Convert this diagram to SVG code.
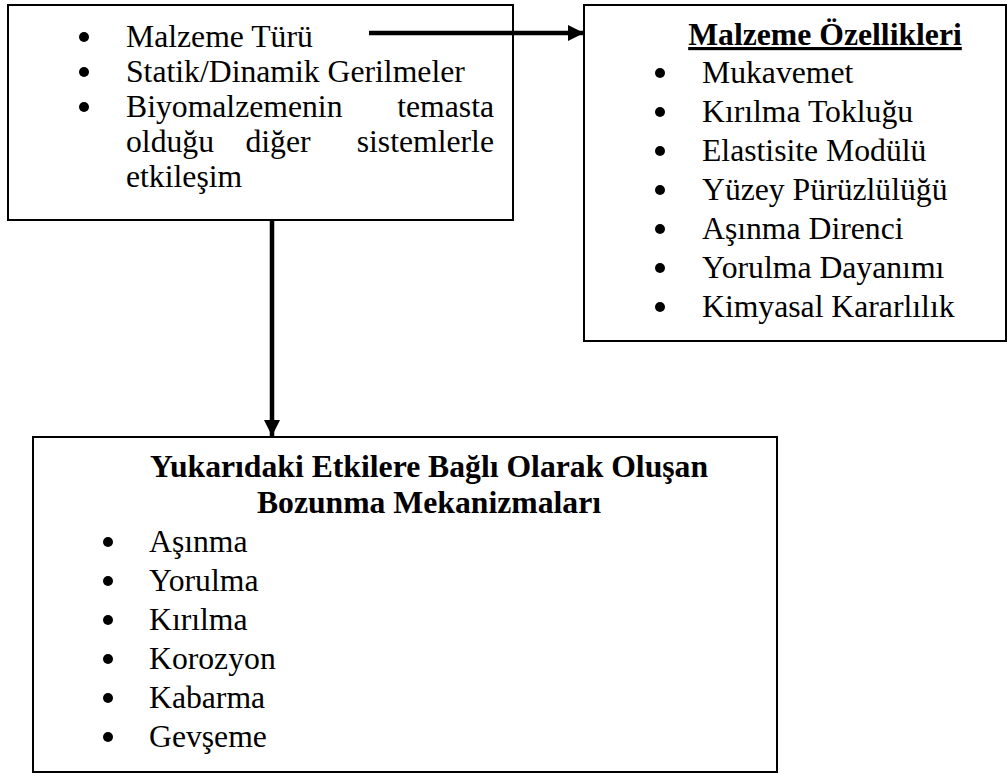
<svg xmlns="http://www.w3.org/2000/svg" width="1008" height="774" viewBox="0 0 1008 774">
  <style>
    .box { fill: #fff; stroke: #000; stroke-width: 2; }
    .t { font-family: "Liberation Serif", "Times New Roman", serif; font-size: 31.7px; fill: #000; }
    .b { font-weight: bold; }
    .u { text-decoration: underline; }
    .dot { fill: #000; }
    .wire { stroke: #000; stroke-width: 4.5; fill: none; }
  </style>
  <defs>
    <marker id="head" markerUnits="userSpaceOnUse" markerWidth="16" markerHeight="16" viewBox="0 0 16 16" refX="16" refY="8" orient="auto">
      <path d="M0,0 L16,8 L0,16 Z" fill="#000"/>
    </marker>
  </defs>

  <!-- influencing factors -->
  <g id="factors">
    <rect class="box" x="8" y="5" width="505" height="215"/>
    <circle class="dot" cx="84" cy="37" r="5"/>
    <text class="t" x="126" y="47">Malzeme Türü</text>
    <circle class="dot" cx="84" cy="72" r="5"/>
    <text class="t" x="126" y="82">Statik/Dinamik Gerilmeler</text>
    <circle class="dot" cx="84" cy="107" r="5"/>
    <text class="t" x="126" y="117">Biyomalzemenin</text>
    <text class="t" x="494" y="117" text-anchor="end">temasta</text>
    <text class="t" x="126" y="152">olduğu</text>
    <text class="t" x="278" y="152" text-anchor="middle">diğer</text>
    <text class="t" x="494" y="152" text-anchor="end">sistemlerle</text>
    <text class="t" x="126" y="187">etkileşim</text>
  </g>

  <!-- material properties -->
  <g id="properties">
    <rect class="box" x="584" y="5" width="422" height="336"/>
    <text class="t b u" x="825" y="45" text-anchor="middle">Malzeme Özellikleri</text>
    <circle class="dot" cx="660" cy="73" r="5"/>
    <text class="t" x="702" y="83">Mukavemet</text>
    <circle class="dot" cx="660" cy="112" r="5"/>
    <text class="t" x="702" y="122">Kırılma Tokluğu</text>
    <circle class="dot" cx="660" cy="151" r="5"/>
    <text class="t" x="702" y="161">Elastisite Modülü</text>
    <circle class="dot" cx="660" cy="190" r="5"/>
    <text class="t" x="702" y="200">Yüzey Pürüzlülüğü</text>
    <circle class="dot" cx="660" cy="229" r="5"/>
    <text class="t" x="702" y="239">Aşınma Direnci</text>
    <circle class="dot" cx="660" cy="268" r="5"/>
    <text class="t" x="702" y="278">Yorulma Dayanımı</text>
    <circle class="dot" cx="660" cy="307" r="5"/>
    <text class="t" x="702" y="317">Kimyasal Kararlılık</text>
  </g>

  <!-- degradation mechanisms -->
  <g id="mechanisms">
    <rect class="box" x="33" y="437" width="744" height="335"/>
    <text class="t b" x="429" y="477" text-anchor="middle">Yukarıdaki Etkilere Bağlı Olarak Oluşan</text>
    <text class="t b" x="429" y="513" text-anchor="middle">Bozunma Mekanizmaları</text>
    <circle class="dot" cx="108" cy="542" r="5"/>
    <text class="t" x="149" y="552">Aşınma</text>
    <circle class="dot" cx="108" cy="581" r="5"/>
    <text class="t" x="149" y="591">Yorulma</text>
    <circle class="dot" cx="108" cy="620" r="5"/>
    <text class="t" x="149" y="630">Kırılma</text>
    <circle class="dot" cx="108" cy="659" r="5"/>
    <text class="t" x="149" y="669">Korozyon</text>
    <circle class="dot" cx="108" cy="698" r="5"/>
    <text class="t" x="149" y="708">Kabarma</text>
    <circle class="dot" cx="108" cy="737" r="5"/>
    <text class="t" x="149" y="747">Gevşeme</text>
  </g>

  <!-- connectors -->
  <g id="connectors">
    <line class="wire" x1="369" y1="33" x2="584" y2="33" marker-end="url(#head)"/>
    <line class="wire" x1="272" y1="220" x2="272" y2="436" marker-end="url(#head)"/>
  </g>
</svg>
